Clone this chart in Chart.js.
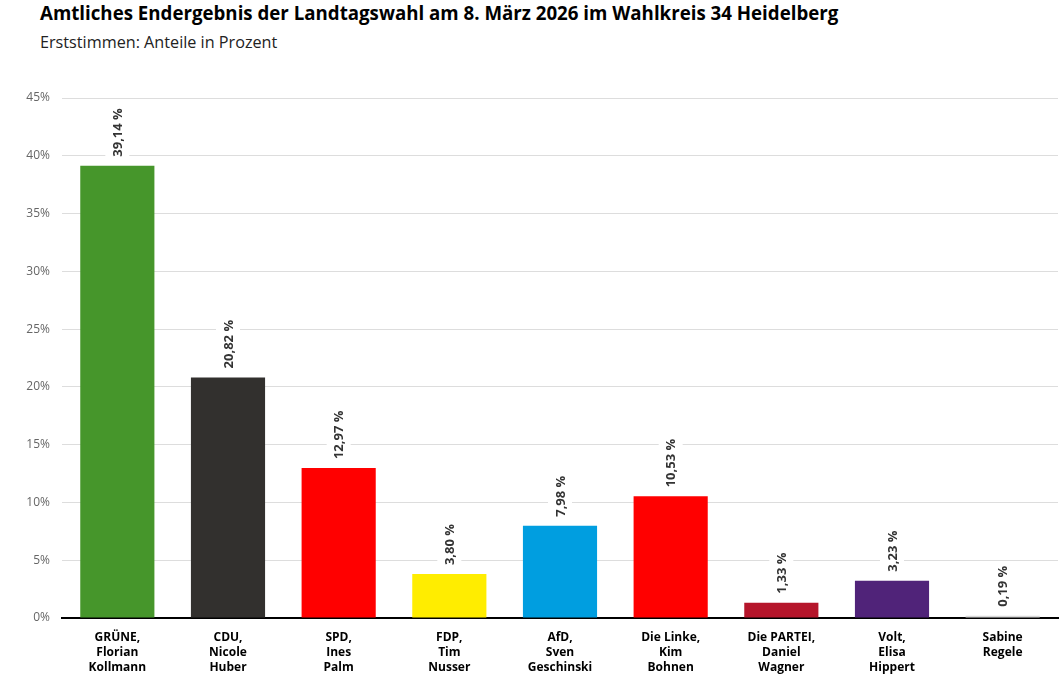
<!DOCTYPE html>
<html>
<head>
<meta charset="utf-8">
<script src="https://cdn.jsdelivr.net/npm/chart.js@4"></script>
<style>
  body { margin: 0; background: #fff; font-family: "Open Sans", sans-serif; }
  #titel { position: absolute; left: 40px; top: 0px; font-size: 18.7px; font-weight: bold; color: #000; }
  #untertitel { position: absolute; left: 40px; top: 31px; font-size: 16.2px; color: #222; }
  #box { position: absolute; left: 0; top: 60px; width: 1060px; height: 623px; }
</style>
</head>
<body>
<div id="titel">Amtliches Endergebnis der Landtagswahl am 8. März 2026 im Wahlkreis 34 Heidelberg</div>
<div id="untertitel">Erststimmen: Anteile in Prozent</div>
<div id="box"><canvas id="myChart"></canvas></div>
<script>
// Kandidaten (Partei, Vorname, Nachname)
const kandidaten = [
    ['GRÜNE,', 'Florian', 'Kollmann'],
    ['CDU,', 'Nicole', 'Huber'],
    ['SPD,', 'Ines', 'Palm'],
    ['FDP,', 'Tim', 'Nusser'],
    ['AfD,', 'Sven', 'Geschinski'],
    ['Die Linke,', 'Kim', 'Bohnen'],
    ['Die PARTEI,', 'Daniel', 'Wagner'],
    ['Volt,', 'Elisa', 'Hippert'],
    ['Sabine', 'Regele']
];
// Anteile in Prozent
const anteile = [39.14, 20.82, 12.97, 3.80, 7.98, 10.53, 1.33, 3.23, 0.19];
// Parteifarben
const farben = ['#46962b', '#32302e', '#ff0000', '#ffed00', '#009ee0', '#ff0000', '#b5152b', '#502379', '#d9d9d9'];
// y-Achse
const yTicks = [0, 5, 10, 15, 20, 25, 30, 35, 40, 45];

// Werte senkrecht über die Balken schreiben
const wertePlugin = {
    id: 'werte',
    afterDatasetsDraw(chart) {
        const c = chart.ctx;
        const meta = chart.getDatasetMeta(0);
        c.save();
        c.font = 'bold 13px "Open Sans"';
        meta.data.forEach((bar, i) => {
            const text = anteile[i].toFixed(2).replace('.', ',') + ' %';
            const w = c.measureText(text).width;
            c.save();
            c.translate(bar.x, bar.y - 9);
            c.rotate(-Math.PI / 2);
            c.fillStyle = '#fff';
            c.fillRect(-2, -12, w + 4, 24);
            c.fillStyle = '#333';
            c.textAlign = 'left';
            c.textBaseline = 'middle';
            c.fillText(text, 0, 1);
            c.restore();
        });
        c.restore();
    }
};

let ctx = document.getElementById('myChart');

let config = {
    type: 'bar',
    data: {
        labels: kandidaten,
        datasets: [{
            data: anteile,
            backgroundColor: farben,
            categoryPercentage: 0.67,
            barPercentage: 1.0
        }]
    },
    options: {
        responsive: true,
        maintainAspectRatio: false,
        animation: false,
        layout: { padding: { top: 38, right: 2, bottom: 0, left: 0 } },
        plugins: {
            legend: { display: false },
            tooltip: { enabled: false }
        },
        scales: {
            x: {
                afterFit(scale) {
                    scale.height = 65;
                },
                grid: { display: false },
                border: { color: '#000', width: 2 },
                ticks: {
                    color: '#000',
                    font: { family: 'Open Sans', size: 12, weight: 'bold', lineHeight: 1.25 },
                    padding: 4,
                    maxRotation: 0,
                    autoSkip: false
                }
            },
            y: {
                min: 0,
                max: 45,
                afterBuildTicks(scale) {
                    scale.ticks = yTicks.map(v => ({ value: v }));
                },
                afterFit(scale) {
                    scale.width = 62;
                },
                grid: { color: '#dddddd', drawTicks: false },
                border: { display: false },
                ticks: {
                    color: '#666',
                    padding: 12,
                    font: { family: 'Open Sans', size: 12 },
                    callback: v => v + '%'
                }
            }
        }
    },
    plugins: [wertePlugin]
};

let myChart = new Chart(ctx, config);
</script>
</body>
</html>
